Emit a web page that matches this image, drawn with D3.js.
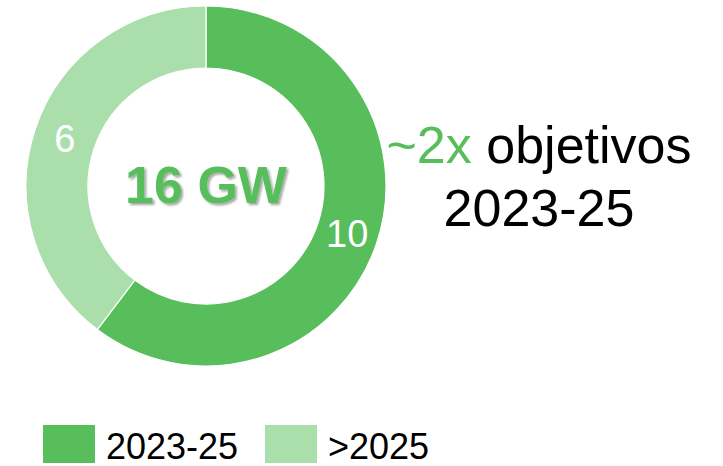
<!DOCTYPE html>
<html>
<head>
<meta charset="utf-8">
<script src="https://cdn.jsdelivr.net/npm/d3@7"></script>
<style>
  body { margin: 0; background: #fff; }
  text { font-family: Arial, "Liberation Sans", sans-serif; }
</style>
</head>
<body>
<svg id="chart" width="723" height="466"></svg>
<script>
// data
const categories = ["2023-25", ">2025"];
const values = [9.65, 6.35];
const colors = ["#58BE5C", "#AADFAB"];
const totalUnit = "GW";
const noteLines = [["~2x", " objetivos"], ["2023-25"]];

const width = 723;
const height = 466;
const cx = 206, cy = 186;
const outerR = 180, innerR = 118;

const svg = d3.select("#chart");

// drop shadow for the total
const defs = svg.append("defs");
const filt = defs.append("filter").attr("id", "shadow")
  .attr("x", "-10%").attr("y", "-20%").attr("width", "130%").attr("height", "150%");
filt.append("feDropShadow")
  .attr("dx", 2).attr("dy", 2).attr("stdDeviation", 1.2)
  .attr("flood-color", "#000").attr("flood-opacity", 0.35);

const color = d3.scaleOrdinal().domain(categories).range(colors);

const pie = d3.pie().sort(null).value(d => d.value);
const arcs = pie(categories.map((c, i) => ({cat: c, value: values[i]})));

const arc = d3.arc().innerRadius(innerR).outerRadius(outerR);
const labelArc = d3.arc().innerRadius(innerR).outerRadius(outerR);

const g = svg.append("g").attr("transform", `translate(${cx},${cy})`);

g.selectAll("path.slice")
  .data(arcs)
  .enter()
  .append("path")
  .attr("class", "slice")
  .attr("d", arc)
  .attr("fill", d => color(d.data.cat))
  .attr("stroke", "#fff")
  .attr("stroke-width", 1.2);

// value labels
g.selectAll("text.val")
  .data(arcs)
  .enter()
  .append("text")
  .attr("class", "val")
  .attr("transform", d => {
    const [x, y] = labelArc.centroid(d);
    return `translate(${x},${y})`;
  })
  .attr("text-anchor", "middle")
  .attr("dy", "0.36em")
  .attr("fill", "#fff")
  .attr("font-size", 38)
  .text(d => d3.format(".0f")(d.data.value));

// total in the hole
g.append("text")
  .attr("text-anchor", "middle")
  .attr("y", 17)
  .attr("fill", colors[0])
  .attr("font-size", 52)
  .attr("font-weight", "bold")
  .attr("filter", "url(#shadow)")
  .text(`${d3.format(".0f")(d3.sum(values))} ${totalUnit}`);

// annotation on the right
const note = svg.append("text")
  .attr("text-anchor", "middle")
  .attr("font-size", 52);
note.append("tspan")
  .attr("x", 539).attr("y", 163)
  .attr("fill", colors[0])
  .text(noteLines[0][0]);
note.append("tspan")
  .attr("fill", "#000")
  .text(noteLines[0][1]);
note.append("tspan")
  .attr("x", 539).attr("y", 226)
  .attr("fill", "#000")
  .text(noteLines[1][0]);

// legend
const legendX = [43, 265];
const legend = svg.selectAll("g.leg")
  .data(categories)
  .enter()
  .append("g")
  .attr("class", "leg")
  .attr("transform", (d, i) => `translate(${legendX[i]},425)`);
legend.append("rect")
  .attr("width", 52).attr("height", 38)
  .attr("fill", d => color(d));
legend.append("text")
  .attr("x", 63).attr("y", 34)
  .attr("font-size", 36)
  .attr("fill", "#000")
  .text(d => d);
</script>
</body>
</html>
